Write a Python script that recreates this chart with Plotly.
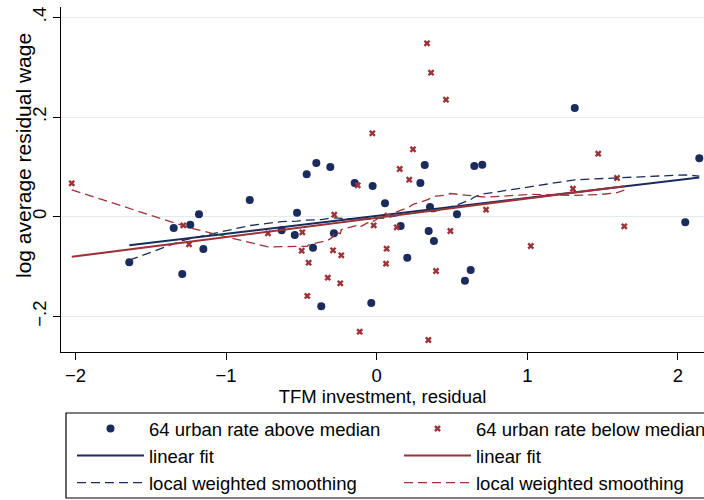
import numpy as np
import plotly.graph_objects as go

# ---- data ----
above_x = [-1.643, -1.348, -1.291, -1.238, -1.180, -1.151, -0.843, -0.631, -0.544, -0.529,
           -0.465, -0.423, -0.401, -0.368, -0.308, -0.284, -0.146, -0.036, -0.027, 0.055,
           0.159, 0.203, 0.290, 0.319, 0.345, 0.354, 0.380, 0.533, 0.586, 0.624,
           0.648, 0.701, 1.315, 2.049, 2.142]
above_y = [-0.0915, -0.0227, -0.115, -0.016, 0.0048, -0.0648, 0.0335, -0.0273, -0.0367, 0.008,
           0.085, -0.0622, 0.1077, -0.1797, 0.0997, -0.0333, 0.0676, -0.1731, 0.0616, 0.0269,
           -0.0187, -0.0822, 0.0676, 0.1037, -0.0287, 0.0195, -0.0487, 0.0048, -0.1284, -0.107,
           0.1017, 0.1043, 0.218, -0.0112, 0.1172]

below_x = [-2.025, -1.284, -1.246, -0.722, -0.498, -0.494, -0.452, -0.461, -0.325, -0.290,
           -0.282, -0.242, -0.235, -0.126, -0.113, -0.029, -0.020, 0.066, 0.062, 0.334,
           0.361, 0.460, 0.241, 0.153, 0.216, 1.471, 1.596, 1.303, 0.726, 0.133,
           0.489, 0.394, 1.023, 1.644, 0.343]
below_y = [0.067, -0.0173, -0.0554, -0.0333, -0.0682, -0.0313, -0.0923, -0.159, -0.1224, -0.0674,
           0.004, -0.1336, -0.0774, 0.063, -0.2307, 0.1673, -0.0173, -0.0642, -0.0943, 0.3478,
           0.2889, 0.2347, 0.1352, 0.0957, 0.0742, 0.1264, 0.0776, 0.0562, 0.014, -0.0213,
           -0.0287, -0.1089, -0.0588, -0.0193, -0.2473]

x_tickvals = [-2, -1, 0, 1, 2]
x_ticktext = ["\u22122", "\u22121", "0", "1", "2"]
y_tickvals = [-0.2, 0, 0.2, 0.4]
y_ticktext = ["\u2212.2", "0", ".2", ".4"]

series_names = ["64 urban rate above median", "64 urban rate below median"]
x_title = "TFM investment, residual"
y_title = "log average residual wage"

NAVY = "#1a2b5c"
MAROON = "#9b3339"
FONT = "Liberation Sans"


def linear_fit(x, y):
    x = np.asarray(x); y = np.asarray(y)
    b, a = np.polyfit(x, y, 1)
    xs = np.array([x.min(), x.max()])
    return xs, a + b * xs


def lowess(x, y, bw=0.8):
    x = np.asarray(x); y = np.asarray(y)
    o = np.argsort(x)
    xs, ys = x[o], y[o]
    n = len(xs)
    k = int(np.floor((n * bw - 0.5) / 2))
    out = np.empty(n)
    for i in range(n):
        lo, hi = max(0, i - k), min(n - 1, i + k)
        xx, yy = xs[lo:hi + 1], ys[lo:hi + 1]
        d = 1.0001 * max(xs[hi] - xs[i], xs[i] - xs[lo])
        w = (1 - (np.abs(xx - xs[i]) / d) ** 3) ** 3
        sw = w.sum()
        mx, my = (w * xx).sum() / sw, (w * yy).sum() / sw
        sxx = (w * (xx - mx) ** 2).sum()
        b = (w * (xx - mx) * (yy - my)).sum() / sxx if sxx > 0 else 0.0
        out[i] = my + b * (xs[i] - mx)
    return xs, out


fig = go.Figure()

fig.add_trace(go.Scatter(x=above_x, y=above_y, mode="markers", name=series_names[0],
                         marker=dict(symbol="circle", size=8, color=NAVY), legend="legend"))
fig.add_trace(go.Scatter(x=below_x, y=below_y, mode="markers", name=series_names[1],
                         marker=dict(symbol="x", size=6, color=MAROON,
                                     line=dict(width=0)), legend="legend2"))

lx, ly = linear_fit(above_x, above_y)
fig.add_trace(go.Scatter(x=lx, y=ly, mode="lines", name="linear fit",
                         line=dict(color=NAVY, width=2), legend="legend"))
sx, sy = lowess(above_x, above_y)
fig.add_trace(go.Scatter(x=sx, y=sy, mode="lines", name="local weighted smoothing",
                         line=dict(color=NAVY, width=1.3, dash="9px,5px"), legend="legend"))

lx2, ly2 = linear_fit(below_x, below_y)
fig.add_trace(go.Scatter(x=lx2, y=ly2, mode="lines", name="linear fit",
                         line=dict(color=MAROON, width=2), legend="legend2"))
sx2, sy2 = lowess(below_x, below_y)
fig.add_trace(go.Scatter(x=sx2, y=sy2, mode="lines", name="local weighted smoothing",
                         line=dict(color=MAROON, width=1.3, dash="9px,5px"), legend="legend2"))

W, H = 704, 500
L, R, T, B = 61, 0, 7, 148
ph = H - T - B
pw = W - L - R


def px_x(p):
    return (p - L) / pw


def px_y(p):
    return (H - B - p) / ph


legend_common = dict(orientation="v", xanchor="left", yanchor="top",
                     bgcolor="rgba(0,0,0,0)", borderwidth=0,
                     font=dict(family=FONT, size=18.5, color="black"),
                     itemwidth=67, tracegroupgap=0, itemclick=False)

fig.update_layout(
    width=W, height=H,
    margin=dict(l=L, r=R, t=T, b=B, pad=0, autoexpand=False),
    paper_bgcolor="white", plot_bgcolor="white",
    font=dict(family=FONT, size=18.5, color="black"),
    legend=dict(x=px_x(72), y=px_y(410), **legend_common),
    legend2=dict(x=px_x(399), y=px_y(410), **legend_common),
    xaxis=dict(range=[-2.0963, 2.1733], tickvals=x_tickvals, ticktext=x_ticktext,
               showgrid=False, zeroline=False, showline=True, linecolor="black", linewidth=1.2,
               ticks="outside", ticklen=7, tickwidth=1.2, tickcolor="black",
               tickfont=dict(family=FONT, size=18.5, color="black"),
               title=dict(text=x_title, font=dict(family=FONT, size=18.5, color="black"),
                          standoff=3)),
    yaxis=dict(range=[-0.27141, 0.42066], tickvals=y_tickvals, ticktext=y_ticktext,
               tickangle=-90,
               showgrid=True, gridcolor="#e3ebee", gridwidth=1.3,
               zeroline=False, showline=True, linecolor="black", linewidth=1.2,
               ticks="outside", ticklen=7, tickwidth=1.2, tickcolor="black",
               tickfont=dict(family=FONT, size=18.5, color="black")),
    annotations=[dict(text=y_title, xref="paper", yref="paper", x=px_x(23), y=px_y(156),
                      xanchor="center", yanchor="middle", textangle=-90, showarrow=False,
                      font=dict(family=FONT, size=21, color="black"))],
    shapes=[dict(type="rect", xref="paper", yref="paper",
                 x0=px_x(66), x1=px_x(720), y0=px_y(498), y1=px_y(413),
                 line=dict(color="black", width=1.2), fillcolor="rgba(0,0,0,0)")],
)

fig.write_html("out.html")
